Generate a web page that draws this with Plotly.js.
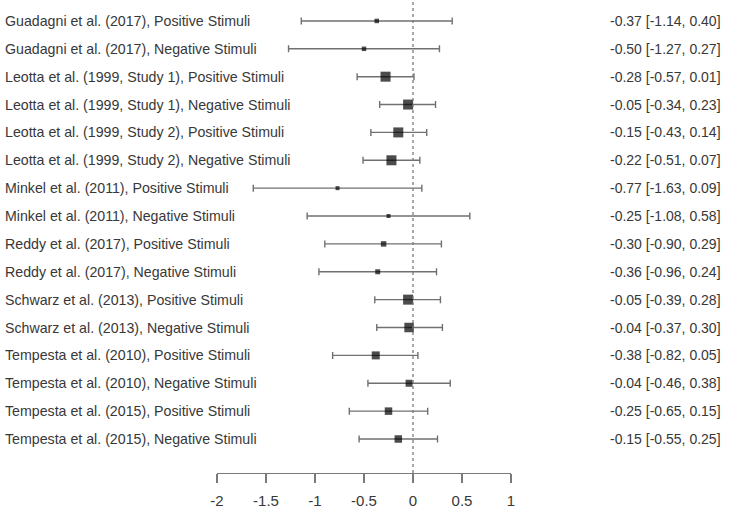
<!DOCTYPE html>
<html>
<head>
<meta charset="utf-8">
<script src="https://cdn.plot.ly/plotly-3.0.1.min.js"></script>
<style>html,body{margin:0;padding:0;background:#fff;}#chart{width:729px;height:511px;}</style>
</head>
<body>
<div id="chart"></div>
<script>
const studies = [
  "Guadagni et al. (2017), Positive Stimuli",
  "Guadagni et al. (2017), Negative Stimuli",
  "Leotta et al. (1999, Study 1), Positive Stimuli",
  "Leotta et al. (1999, Study 1), Negative Stimuli",
  "Leotta et al. (1999, Study 2), Positive Stimuli",
  "Leotta et al. (1999, Study 2), Negative Stimuli",
  "Minkel et al. (2011), Positive Stimuli",
  "Minkel et al. (2011), Negative Stimuli",
  "Reddy et al. (2017), Positive Stimuli",
  "Reddy et al. (2017), Negative Stimuli",
  "Schwarz et al. (2013), Positive Stimuli",
  "Schwarz et al. (2013), Negative Stimuli",
  "Tempesta et al. (2010), Positive Stimuli",
  "Tempesta et al. (2010), Negative Stimuli",
  "Tempesta et al. (2015), Positive Stimuli",
  "Tempesta et al. (2015), Negative Stimuli"
];
const estimates = [-0.37, -0.50, -0.28, -0.05, -0.15, -0.22, -0.77, -0.25, -0.30, -0.36, -0.05, -0.04, -0.38, -0.04, -0.25, -0.15];
const ciLower   = [-1.14, -1.27, -0.57, -0.34, -0.43, -0.51, -1.63, -1.08, -0.90, -0.96, -0.39, -0.37, -0.82, -0.46, -0.65, -0.55];
const ciUpper   = [0.40, 0.27, 0.01, 0.23, 0.14, 0.07, 0.09, 0.58, 0.29, 0.24, 0.28, 0.30, 0.05, 0.38, 0.15, 0.25];
const markerWeights = [4.5, 4.5, 10, 10, 10, 10, 4, 4, 5.5, 5, 10, 9.5, 8, 7, 7.5, 7.5];
const xTicks = [-2, -1.5, -1, -0.5, 0, 0.5, 1];
const xTickLabels = ["-2", "-1.5", "-1", "-0.5", "0", "0.5", "1"];

const rows = studies.map((_, i) => i);
const fmt = v => v.toFixed(2);
const ciText = estimates.map((e, i) => `${fmt(e)} [${fmt(ciLower[i])}, ${fmt(ciUpper[i])}]`);

const L = 217, R = 218, T = 7, B = 38;
const plotW = 729 - L - R;
const font = "Liberation Sans, Arial, sans-serif";
const textColor = "#383838";

const trace = {
  type: "scatter",
  mode: "markers",
  x: estimates,
  y: rows,
  marker: { symbol: "square", color: "#000", size: markerWeights, line: { width: 0 } },
  error_x: {
    type: "data",
    symmetric: false,
    array: estimates.map((e, i) => ciUpper[i] - e),
    arrayminus: estimates.map((e, i) => e - ciLower[i]),
    color: "#707070",
    thickness: 1.4,
    width: 3.5
  },
  hoverinfo: "skip",
  showlegend: false
};

const annotations = [];
studies.forEach((s, i) => {
  annotations.push({
    text: s, xref: "paper", yref: "y", x: (3 - L) / plotW, y: i,
    xanchor: "left", yanchor: "middle", showarrow: false,
    font: { family: font, size: 14.2, color: textColor }
  });
  annotations.push({
    text: ciText[i], xref: "paper", yref: "y", x: (723 - L) / plotW, y: i,
    xanchor: "right", yanchor: "middle", showarrow: false,
    font: { family: font, size: 14, color: textColor }
  });
});

const layout = {
  width: 729, height: 511,
  margin: { l: L, r: R, t: T, b: B, pad: 0 },
  paper_bgcolor: "#fff", plot_bgcolor: "#fff",
  xaxis: {
    range: [-2, 1], tickvals: xTicks, ticktext: xTickLabels,
    showgrid: false, zeroline: false, showline: true, linecolor: "#7a7a7a", linewidth: 1.4,
    ticks: "outside", ticklen: 9, tickwidth: 1.4, tickcolor: "#7a7a7a",
    ticklabelstandoff: 5,
    tickfont: { family: font, size: 15, color: textColor },
    fixedrange: true
  },
  yaxis: {
    range: [16.22, -0.5], showgrid: false, zeroline: false, showline: false,
    showticklabels: false, ticks: "", fixedrange: true
  },
  shapes: [{
    type: "line", xref: "x", yref: "paper", x0: 0, x1: 0, y0: 0, y1: 1 + T / (511 - T - B),
    line: { color: "#7a7a7a", width: 1.3, dash: "dot" }
  }],
  annotations: annotations
};

Plotly.newPlot("chart", [trace], layout, { displayModeBar: false, staticPlot: true });
</script>
</body>
</html>
